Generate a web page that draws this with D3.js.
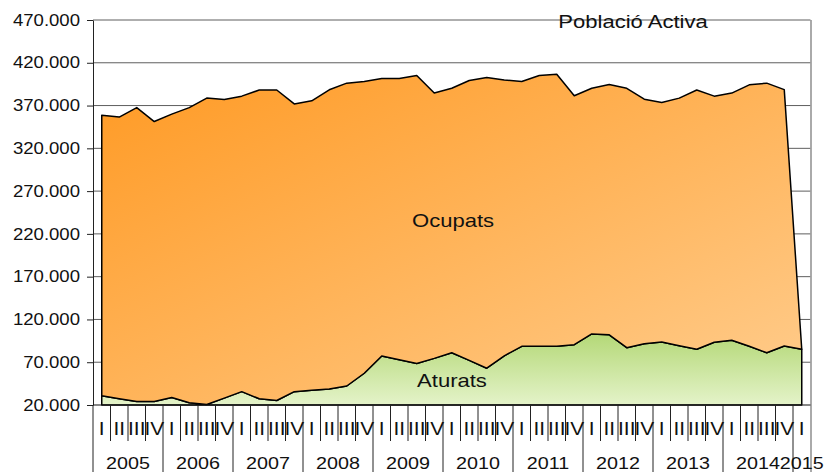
<!DOCTYPE html>
<html>
<head>
<meta charset="utf-8">
<script src="https://cdn.jsdelivr.net/npm/d3@7"></script>
<style>
  body { margin: 0; background: #fff; }
  svg { display: block; font-family: "Liberation Sans", Arial, sans-serif; }
</style>
</head>
<body>
<svg></svg>
<script>
var width = 825,
    height = 472,
    stretch = 1.16;

// Chart data (persones), quarters 2005 I .. 2015 I
var years = ['2005', '2006', '2007', '2008', '2009', '2010', '2011', '2012', '2013', '2014', '2015'];
var quarterNames = ['I', 'II', 'III', 'IV'];

var aturats = [30800, 27300, 24100, 24100, 28800, 22600, 20600, 28000, 35600, 27300,
    25300, 35600, 37100, 38800, 42200, 57100, 77200, 72800, 68600, 74500,
    81100, 72100, 63000, 77500, 88600, 88600, 88600, 90500, 103100, 102000,
    87000, 91700, 93700, 89300, 85100, 93300, 95700, 88600, 81100, 89000,
    85100];

var ocupats = [328000, 329200, 343500, 327200, 331200, 345000, 358100, 349100, 345400, 360900,
    362900, 336300, 338400, 349600, 354000, 341000, 324500, 328900, 336600, 310100,
    309100, 327200, 339900, 322300, 309500, 316600, 318000, 290900, 287100, 292500,
    303200, 285800, 279900, 289400, 303100, 287700, 288900, 305600, 315100, 299600,
    0];

var yTicks = [20000, 70000, 120000, 170000, 220000, 270000, 320000, 370000, 420000, 470000];

// period labels (quarter + year)
var periods = [];
years.forEach(function(yr) {
    var n = yr === '2015' ? 1 : 4;
    for (var q = 0; q < n; q++) periods.push({ year: yr, q: quarterNames[q] });
});

var rows = periods.map(function(p, i) {
    return { i: i, aturats: aturats[i], ocupats: ocupats[i] };
});

var plotLeft = 93, plotRight = 810.5, plotTop = 20, plotBottom = 405;

var x = d3.scaleBand()
    .domain(d3.range(periods.length))
    .range([plotLeft, plotRight]);

var cx = function(i) { return x(i) + x.bandwidth() / 2; };

var y = d3.scaleLinear()
    .domain([20000, 470000])
    .range([plotBottom, plotTop])
    .clamp(true);

var fmt = d3.formatLocale({ decimal: ',', thousands: '.', grouping: [3], currency: ['', '€'] }).format(',d');

var svg = d3.select('svg')
    .attr('width', width)
    .attr('height', height);

var defs = svg.append('defs');

var gOr = defs.append('linearGradient')
    .attr('id', 'gOrange')
    .attr('x1', 0).attr('y1', 0).attr('x2', 1).attr('y2', 1);
gOr.append('stop').attr('offset', 0).attr('stop-color', '#ff9a24');
gOr.append('stop').attr('offset', 1).attr('stop-color', '#ffcd8e');

var gGr = defs.append('linearGradient')
    .attr('id', 'gGreen')
    .attr('gradientUnits', 'userSpaceOnUse')
    .attr('x1', 0).attr('x2', 0)
    .attr('y1', y(d3.max(aturats))).attr('y2', y(20000));
gGr.append('stop').attr('offset', 0).attr('stop-color', '#b4d877');
gGr.append('stop').attr('offset', 1).attr('stop-color', '#e4f3c9');

// stretched text helper
function label(g, txt, tx, ty, size, anchor) {
    return g.append('text')
        .attr('transform', 'translate(' + tx + ',' + ty + ') scale(' + stretch + ',1)')
        .attr('text-anchor', anchor || 'middle')
        .style('font-size', size + 'px')
        .attr('fill', '#111')
        .text(txt);
}

// Gridlines
svg.append('g')
    .selectAll('line')
    .data(yTicks.filter(function(t) { return t > 20000; }))
    .enter().append('line')
    .attr('x1', plotLeft).attr('x2', plotRight)
    .attr('y1', function(d) { return y(d); })
    .attr('y2', function(d) { return y(d); })
    .attr('stroke', '#5e5e5e')
    .attr('stroke-width', 1);

// Stacked areas
var stack = d3.stack().keys(['aturats', 'ocupats']);
var series = stack(rows);

var area = d3.area()
    .x(function(d) { return cx(d.data.i); })
    .y0(function(d) { return y(d[0]); })
    .y1(function(d) { return y(d[1]); });

svg.append('g')
    .selectAll('path')
    .data(series)
    .enter().append('path')
    .attr('d', area)
    .attr('fill', function(d) { return d.key === 'aturats' ? 'url(#gGreen)' : 'url(#gOrange)'; })
    .attr('stroke', '#000')
    .attr('stroke-width', 1.5)
    .attr('stroke-linejoin', 'round');

// Right border
svg.append('line')
    .attr('x1', 811).attr('x2', 811)
    .attr('y1', plotTop).attr('y2', height)
    .attr('stroke', '#8e8e8e')
    .attr('stroke-width', 1.5);

// Y axis
var yAxis = svg.append('g')
    .attr('transform', 'translate(' + plotLeft + ',0)')
    .call(d3.axisLeft(y).tickValues(yTicks).tickFormat(fmt).tickSize(6).tickSizeOuter(0));
yAxis.select('.domain').attr('stroke', '#222');
yAxis.selectAll('.tick line').attr('stroke', '#222');
yAxis.selectAll('.tick text')
    .attr('x', -13 / stretch)
    .attr('transform', 'scale(' + stretch + ',1)')
    .attr('fill', '#111')
    .style('font-size', '16px')
    .style('font-family', '"Liberation Sans", Arial, sans-serif');

// X axis
var xg = svg.append('g');
xg.append('line')
    .attr('x1', plotLeft).attr('x2', plotRight)
    .attr('y1', plotBottom).attr('y2', plotBottom)
    .attr('stroke', '#111').attr('stroke-width', 1.2);

xg.selectAll('line.q')
    .data(d3.range(periods.length + 1))
    .enter().append('line')
    .attr('class', 'q')
    .attr('x1', function(k) { return k < periods.length ? x(k) : plotRight; })
    .attr('x2', function(k) { return k < periods.length ? x(k) : plotRight; })
    .attr('y1', plotBottom)
    .attr('y2', function(k) { return (k % 4 === 0 || k === periods.length) ? height : 441; })
    .attr('stroke', function(k) { return k === periods.length ? 'none' : '#222'; })
    .attr('stroke-width', 1);

periods.forEach(function(p, i) {
    label(xg, p.q, cx(i), 435, 18);
});

years.forEach(function(yr, j) {
    var idx = periods.map(function(p, i) { return p.year === yr ? i : -1; }).filter(function(i) { return i >= 0; });
    var mid = (x(idx[0]) + x(idx[idx.length - 1]) + x.bandwidth()) / 2;
    label(xg, yr, mid, 469, 17);
});

// Title and series labels
label(svg, 'Població Activa', 633, 28, 19);
label(svg, 'Ocupats', 453, 227, 19);
label(svg, 'Aturats', 452, 386.5, 19);
</script>
</body>
</html>
